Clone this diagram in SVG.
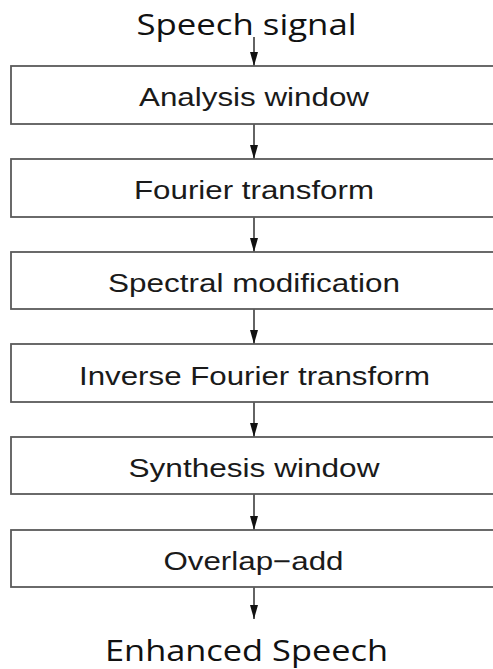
<svg xmlns="http://www.w3.org/2000/svg" width="493" height="669" viewBox="0 0 493 669">
<style>
.box{fill:#fff;stroke:#5a5a5a;stroke-width:1.8}
.lbl{font-family:"Liberation Sans",Arial,sans-serif;font-size:25.6px;fill:#1a1a1a;text-anchor:middle}
.ttl{font-family:"Open Sans","Noto Sans",sans-serif;font-size:30px;fill:#111;text-anchor:middle}
.conn{stroke:#222;stroke-width:1.4;fill:none}
</style>
<defs>
<marker id="ah" viewBox="0 0 14 8" refX="14" refY="4" markerWidth="14" markerHeight="8" markerUnits="userSpaceOnUse" orient="auto">
<path d="M0,0 L14,4 L0,8 z" fill="#111"/>
</marker>
</defs>
<rect width="493" height="669" fill="#fff"/>
<g id="connectors">
<line class="conn" x1="254" y1="37" x2="254" y2="66" marker-end="url(#ah)"/>
<line class="conn" x1="254" y1="124" x2="254" y2="159" marker-end="url(#ah)"/>
<line class="conn" x1="254" y1="217" x2="254" y2="252" marker-end="url(#ah)"/>
<line class="conn" x1="254" y1="309" x2="254" y2="344" marker-end="url(#ah)"/>
<line class="conn" x1="254" y1="402" x2="254" y2="437" marker-end="url(#ah)"/>
<line class="conn" x1="254" y1="494" x2="254" y2="530" marker-end="url(#ah)"/>
<line class="conn" x1="254" y1="587" x2="254" y2="619" marker-end="url(#ah)"/>
</g>
<g id="speech-signal">
<text class="ttl" x="246.5" y="35" textLength="220" lengthAdjust="spacingAndGlyphs">Speech signal</text>
</g>
<g id="analysis-window">
<rect class="box" x="11" y="66" width="490" height="58"/>
<text class="lbl" x="254" y="106.3" textLength="230" lengthAdjust="spacingAndGlyphs">Analysis window</text>
</g>
<g id="fourier-transform">
<rect class="box" x="11" y="159" width="490" height="58"/>
<text class="lbl" x="254" y="199.2" textLength="240" lengthAdjust="spacingAndGlyphs">Fourier transform</text>
</g>
<g id="spectral-modification">
<rect class="box" x="11" y="252" width="490" height="57"/>
<text class="lbl" x="254" y="291.9" textLength="292" lengthAdjust="spacingAndGlyphs">Spectral modification</text>
</g>
<g id="inverse-fourier-transform">
<rect class="box" x="11" y="344" width="490" height="58"/>
<text class="lbl" x="254.5" y="384.5" textLength="351" lengthAdjust="spacingAndGlyphs">Inverse Fourier transform</text>
</g>
<g id="synthesis-window">
<rect class="box" x="11" y="437" width="490" height="57"/>
<text class="lbl" x="254" y="477.4" textLength="251" lengthAdjust="spacingAndGlyphs">Synthesis window</text>
</g>
<g id="overlap-add">
<rect class="box" x="11" y="530" width="490" height="57"/>
<text class="lbl" x="253.5" y="570.2" textLength="180" lengthAdjust="spacingAndGlyphs">Overlap−add</text>
</g>
<g id="enhanced-speech">
<text class="ttl" x="246.5" y="661" style="font-size:29px" textLength="283" lengthAdjust="spacingAndGlyphs">Enhanced Speech</text>
</g>
</svg>
